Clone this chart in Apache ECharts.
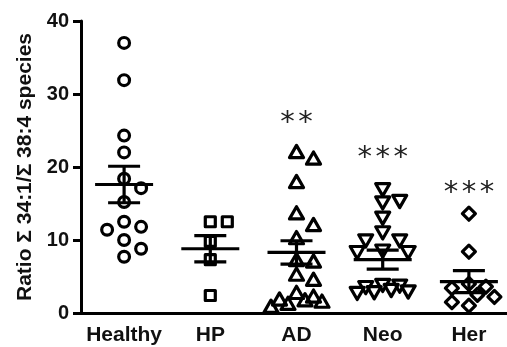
<!DOCTYPE html>
<html><head><meta charset="utf-8">
<script src="https://cdn.jsdelivr.net/npm/echarts@6/dist/echarts.min.js"></script>
<style>html,body{margin:0;padding:0;background:#fff;overflow:hidden;width:507px;height:347px}#c{width:512px;height:347px}</style>
</head><body><div id="c"></div>
<script>
// ---- data ----
const categories = ['Healthy', 'HP', 'AD', 'Neo', 'Her'];
const healthyValues = [37.0, 31.9, 24.3, 22.0, 18.4, 17.1, 15.2, 12.5, 11.8, 11.4, 10.0, 8.8, 7.7];
const hpValues = [12.5, 12.5, 9.8, 7.3, 2.4];
const adValues = [22.0, 21.1, 17.9, 13.6, 12.0, 10.2, 7.2, 7.0, 5.2, 4.5, 2.7, 2.2, 1.8, 1.7, 1.5, 1.2, 0.8];
const neoValues = [17.0, 15.4, 15.2, 13.1, 11.1, 10.0, 10.0, 8.6, 8.4, 8.4, 3.9, 3.8, 3.6, 3.2, 3.0, 2.9, 2.8];
const herValues = [13.6, 8.4, 4.0, 3.6, 3.4, 2.5, 2.2, 1.5, 1.0];
const groupMeans = [17.6, 8.8, 8.3, 7.3, 4.3];
const groupSems = [2.5, 1.8, 1.6, 1.3, 1.5];
const sigLabels = ['', '', '**', '***', '***'];
const sigLevels = [null, null, 26.8, 22.0, 17.2];
const yMin = 0, yMax = 40, yStep = 10;
const yTitle = 'Ratio \u03A3 34:1/\u03A3 38:4 species';

// ---- build ----
const groups = [healthyValues, hpValues, adValues, neoValues, herValues];
const symbols = ['circle', 'rect', 'triangle', 'triangleDown', 'diamond'];
const pointData = [];
groups.forEach((vals, g) => vals.forEach((v, i) => pointData.push([g, v, i])));
const barData = groupMeans.map((m, g) => [g, m, groupSems[g]]);
const sigData = [];
sigLevels.forEach((lv, g) => { if (lv !== null) sigData.push([g, lv]); });

// simple deterministic beeswarm (pixel space)
const HALF = 8.5, THRESH = 13;
const SLOTS = [0, 2, -2, 1, -1, 3, -3];
function layoutGroups(api) {
  return groups.map((vals, g) => {
    const order = vals.map((v, i) => i).sort((a, b) => vals[b] - vals[a]);
    const placed = [];
    const offs = new Array(vals.length).fill(0);
    order.forEach(i => {
      const p = api.coord([g, vals[i]]);
      let best = 0, bestD = -1;
      for (const k of SLOTS) {
        const x = p[0] + k * HALF;
        let minD = Infinity;
        placed.forEach(q => { const d = Math.hypot(q[0] - x, q[1] - p[1]); if (d < minD) minD = d; });
        if (minD >= THRESH) { best = k; bestD = minD; break; }
        if (minD > bestD) { bestD = minD; best = k; }
      }
      placed.push([p[0] + best * HALF, p[1]]);
      offs[i] = best * HALF;
    });
    return offs;
  });
}

const stroke = { fill: 'none', stroke: '#000', lineWidth: 3.2, lineJoin: 'round' };
function markShape(kind, cx, cy) {
  switch (kind) {
    case 'circle': return { type: 'circle', shape: { cx, cy, r: 5.4 }, style: stroke };
    case 'rect': return { type: 'rect', shape: { x: cx - 5, y: cy - 5, width: 10, height: 10 }, style: stroke };
    case 'triangle': return { type: 'polygon', shape: { points: [[cx, cy - 7], [cx + 7, cy + 5.2], [cx - 7, cy + 5.2]] }, style: stroke };
    case 'triangleDown': return { type: 'polygon', shape: { points: [[cx - 7, cy - 5.2], [cx + 7, cy - 5.2], [cx, cy + 7]] }, style: stroke };
    default: return { type: 'polygon', shape: { points: [[cx, cy - 6.5], [cx + 6.5, cy], [cx, cy + 6.5], [cx - 6.5, cy]] }, style: stroke };
  }
}

const FONT = '"Liberation Sans", Arial, sans-serif';
const chart = echarts.init(document.getElementById('c'), null, { renderer: 'canvas' });
chart.setOption({
  animation: false,
  backgroundColor: '#fff',
  grid: { left: 81, right: 0, top: 21, bottom: 34, containLabel: false },
  xAxis: {
    type: 'category', data: categories,
    axisLine: { lineStyle: { color: '#000', width: 3 } },
    axisTick: { show: false },
    axisLabel: { interval: 0, color: '#111', fontFamily: FONT, fontWeight: 'bold', fontSize: 21, margin: 12 }
  },
  yAxis: {
    type: 'value', min: yMin, max: yMax, interval: yStep,
    name: yTitle, nameLocation: 'middle', nameRotate: 90, nameGap: 44,
    nameTextStyle: { color: '#111', fontFamily: FONT, fontWeight: 'bold', fontSize: 21 },
    axisLine: { show: true, lineStyle: { color: '#000', width: 3 } },
    axisTick: { show: true, length: 8, lineStyle: { color: '#000', width: 3 } },
    splitLine: { show: false },
    axisLabel: { color: '#111', fontFamily: FONT, fontWeight: 'bold', fontSize: 20, margin: 12 }
  },
  series: [
    {
      type: 'custom', name: 'points', data: pointData, encode: { x: 0, y: 1 }, z: 2,
      renderItem: function (params, api) {
        if (!params.context.offs) params.context.offs = layoutGroups(api);
        const g = api.value(0), v = api.value(1), i = api.value(2);
        const p = api.coord([g, v]);
        return markShape(symbols[g], p[0] + params.context.offs[g][i], p[1]);
      }
    },
    {
      type: 'custom', name: 'meanSem', data: barData, encode: { x: 0, y: 1 }, z: 3,
      renderItem: function (params, api) {
        const g = api.value(0), m = api.value(1), s = api.value(2);
        const c = api.coord([g, m]), t = api.coord([g, m + s]), b = api.coord([g, m - s]);
        const ls = { stroke: '#000', lineWidth: 3.2 };
        const hm = 29, hc = 16;
        return { type: 'group', children: [
          { type: 'line', shape: { x1: c[0], y1: t[1], x2: c[0], y2: b[1] }, style: ls },
          { type: 'line', shape: { x1: c[0] - hc, y1: t[1], x2: c[0] + hc, y2: t[1] }, style: ls },
          { type: 'line', shape: { x1: c[0] - hc, y1: b[1], x2: c[0] + hc, y2: b[1] }, style: ls },
          { type: 'line', shape: { x1: c[0] - hm, y1: c[1], x2: c[0] + hm, y2: c[1] }, style: ls }
        ] };
      }
    },
    {
      type: 'custom', name: 'significance', data: sigData, encode: { x: 0, y: 1 }, z: 4,
      renderItem: function (params, api) {
        const g = api.value(0), lv = api.value(1);
        const p = api.coord([g, lv]);
        const n = sigLabels[g].length, pitch = 18;
        const children = [];
        for (let k = 0; k < n; k++) {
          children.push({ type: 'text', x: p[0] + (k - (n - 1) / 2) * pitch, y: p[1] + 6,
            style: { text: '*', fill: '#222', font: 'normal 29px "DejaVu Sans", sans-serif', align: 'center', verticalAlign: 'middle' } });
        }
        return { type: 'group', children };
      }
    }
  ]
});
</script></body></html>
